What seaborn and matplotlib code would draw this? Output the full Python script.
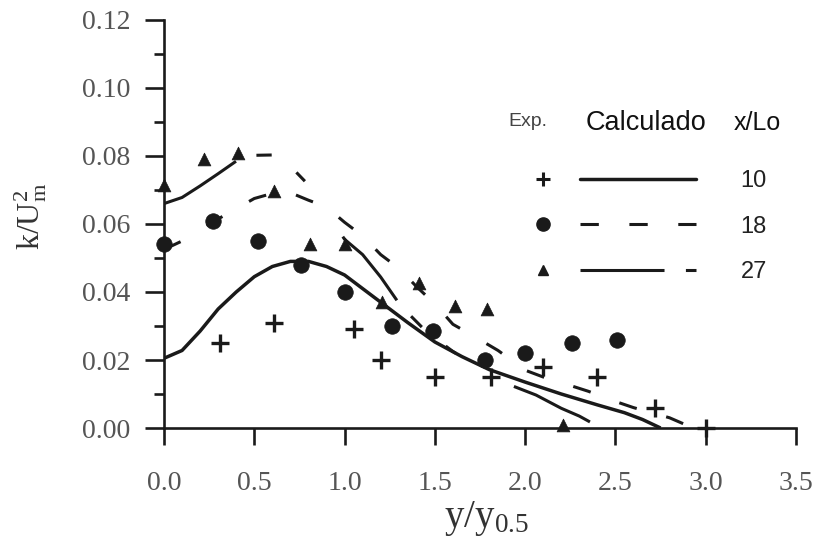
import matplotlib
matplotlib.use("Agg")
import matplotlib.pyplot as plt
import pandas as pd
import seaborn as sns
from matplotlib.lines import Line2D
from matplotlib.ticker import MultipleLocator, FormatStrFormatter

# ---------------- data ----------------
cases = ["10", "18", "27"]

exp10_x = [0.31, 0.61, 1.05, 1.20, 1.50, 1.81, 2.10, 2.40, 2.72, 3.00]
exp10_y = [0.025, 0.031, 0.029, 0.020, 0.015, 0.015, 0.018, 0.015, 0.006, 0.000]

exp18_x = [0.00, 0.27, 0.52, 0.76, 1.00, 1.26, 1.49, 1.78, 2.00, 2.26, 2.51]
exp18_y = [0.054, 0.061, 0.055, 0.048, 0.040, 0.030, 0.0285, 0.020, 0.022, 0.025, 0.026]

exp27_x = [0.00, 0.22, 0.41, 0.61, 0.81, 1.00, 1.21, 1.41, 1.61, 1.79, 2.21]
exp27_y = [0.0715, 0.079, 0.081, 0.0697, 0.054, 0.054, 0.037, 0.0427, 0.036, 0.035, 0.001]

calc10_x = [0.0, 0.1, 0.2, 0.3, 0.4, 0.5, 0.6, 0.7, 0.8, 0.9, 1.0, 1.1, 1.2, 1.35,
            1.5, 1.65, 1.8, 2.0, 2.2, 2.4, 2.55, 2.65, 2.75]
calc10_y = [0.0205, 0.0228, 0.0285, 0.035, 0.040, 0.0445, 0.0475, 0.049, 0.049, 0.0475,
            0.045, 0.041, 0.037, 0.031, 0.0253, 0.021, 0.0172, 0.0135, 0.010, 0.0068,
            0.0045, 0.0025, 0.0]

calc18_x = [0.0, 0.1, 0.2, 0.3, 0.4, 0.5, 0.6, 0.7, 0.8, 0.9, 1.0, 1.1, 1.2, 1.3, 1.4,
            1.5, 1.6, 1.7, 1.85, 2.0, 2.1, 2.25, 2.35, 2.5, 2.6, 2.7, 2.8, 2.9, 2.95]
calc18_y = [0.0525, 0.055, 0.0585, 0.0615, 0.0645, 0.0675, 0.069, 0.0692, 0.067, 0.065,
            0.0605, 0.0565, 0.051, 0.047, 0.0415, 0.0365, 0.0305, 0.0275, 0.0228, 0.017,
            0.015, 0.0125, 0.0108, 0.0078, 0.006, 0.0045, 0.003, 0.0007, 0.0]

calc27_x = [0.0, 0.1, 0.2, 0.3, 0.4, 0.5, 0.6, 0.7, 0.8, 0.9, 1.0, 1.1, 1.2, 1.31,
            1.45, 1.6, 1.75, 1.9, 2.06, 2.2, 2.3, 2.42]
calc27_y = [0.066, 0.0678, 0.0712, 0.0748, 0.0785, 0.0802, 0.0803, 0.077, 0.0715, 0.0635,
            0.0555, 0.051, 0.0444, 0.036, 0.0285, 0.0225, 0.0175, 0.013, 0.0097, 0.0058,
            0.0035, 0.0]

xticks = [0.0, 0.5, 1.0, 1.5, 2.0, 2.5, 3.0, 3.5]
yticks = [0.00, 0.02, 0.04, 0.06, 0.08, 0.10, 0.12]

header_exp = "Exp."
header_calc = "Calculado"
header_case = "x/Lo"

# ---------------- style ----------------
INK = "#1a1a1a"
sns.set_theme(style="white")
plt.rcParams["font.family"] = ["Liberation Serif", "DejaVu Serif"]
plt.rcParams["mathtext.fontset"] = "custom"
plt.rcParams["mathtext.rm"] = "Liberation Serif"
plt.rcParams["mathtext.it"] = "Liberation Serif:italic"

calc = pd.concat([
    pd.DataFrame({"x": calc10_x, "y": calc10_y, "case": "10"}),
    pd.DataFrame({"x": calc18_x, "y": calc18_y, "case": "18"}),
    pd.DataFrame({"x": calc27_x, "y": calc27_y, "case": "27"}),
], ignore_index=True)

dash_map = {"10": "", "18": (6, 10), "27": (27.5, 7, 5, 10, 4, 22)}
lw_map = {"10": 2.5, "18": 2.2, "27": 2.2}

fig = plt.figure(figsize=(8.17, 5.44), dpi=100)
W, H = 817, 544
ax = fig.add_axes([164 / W, 1 - 428 / H, (796 - 164) / W, (428 - 20) / H])

for c in cases:
    sub = calc[calc["case"] == c]
    sns.lineplot(data=sub, x="x", y="y", sort=False, estimator=None, color=INK,
                 linewidth=lw_map[c], ax=ax, legend=False, zorder=2)
    ln = ax.lines[-1]
    if dash_map[c]:
        ln.set_dashes(dash_map[c])
    ln.set_solid_capstyle("butt")
    ln.set_dash_capstyle("butt")

sns.scatterplot(x=exp10_x, y=exp10_y, marker="+", s=150, color=INK, linewidth=2.4,
                ax=ax, legend=False, zorder=3, clip_on=False)
sns.scatterplot(x=exp18_x, y=exp18_y, marker="o", s=125, color=INK, edgecolor=INK,
                linewidth=0.5, ax=ax, legend=False, zorder=3, clip_on=False)
sns.scatterplot(x=exp27_x, y=exp27_y, marker="^", s=85, color=INK, edgecolor=INK,
                linewidth=0.5, ax=ax, legend=False, zorder=3, clip_on=False)

ax.set_xlim(0, 3.5)
ax.set_ylim(0, 0.12)
ax.set_xticks(xticks)
ax.set_yticks(yticks)
ax.yaxis.set_minor_locator(MultipleLocator(0.01))
ax.xaxis.set_major_formatter(FormatStrFormatter("%.1f"))
ax.yaxis.set_major_formatter(FormatStrFormatter("%.2f"))

for side in ["top", "right"]:
    ax.spines[side].set_visible(False)
for side in ["left", "bottom"]:
    ax.spines[side].set_color(INK)
    ax.spines[side].set_linewidth(1.9)

ax.tick_params(axis="y", which="major", direction="out", length=14, width=1.9,
               color=INK, labelsize=20, labelcolor="#555555", pad=10, left=True)
ax.tick_params(axis="y", which="minor", direction="out", length=7, width=1.9,
               color=INK, left=True)
ax.tick_params(axis="x", which="major", direction="out", length=12, width=1.9,
               color=INK, labelsize=20, labelcolor="#555555", pad=19, bottom=True)
ax.grid(False)

ax.set_xlabel(r"y/y$_{\mathrm{0.5}}$", fontsize=28, color="#333333")
ax.set_ylabel(r"k/U$_{\mathrm{m}}^{\mathrm{2}}$", fontsize=23, color="#333333")
ax.xaxis.set_label_coords(0.51, -0.175)
ax.yaxis.set_label_coords(-0.182, 0.52)

# ---------------- legend ----------------
sans = ["Liberation Sans", "DejaVu Sans"]
marker_handles = [
    Line2D([], [], ls="none", marker="+", ms=10, mew=2.2, color=INK),
    Line2D([], [], ls="none", marker="o", ms=9.5, color=INK),
    Line2D([], [], ls="none", marker="^", ms=7.5, color=INK),
]
line_handles = []
for c in cases:
    h = Line2D([], [], color=INK, lw=lw_map[c])
    if dash_map[c]:
        h.set_dashes(dash_map[c])
    h.set_dash_capstyle("butt")
    line_handles.append(h)

leg_fs = 17
leg1 = ax.legend(handles=marker_handles, labels=["", "", ""], loc="upper left",
                 bbox_to_anchor=(531 / W, 1 - 170 / H), bbox_transform=fig.transFigure,
                 frameon=False, borderpad=0, borderaxespad=0, handlelength=1.0,
                 handletextpad=0, labelspacing=1.0, prop={"family": sans, "size": leg_fs})
ax.add_artist(leg1)
leg2 = ax.legend(handles=line_handles, labels=cases, loc="upper left",
                 bbox_to_anchor=(580 / W, 1 - 170 / H), bbox_transform=fig.transFigure,
                 frameon=False, borderpad=0, borderaxespad=0, handlelength=4.9,
                 handletextpad=1.9, labelspacing=1.0, prop={"family": sans, "size": leg_fs})
for t in leg2.get_texts():
    t.set_color("#222222")

fig.text(508 / W, 1 - 122 / H, header_exp, family=sans, fontsize=14, color="#444444",
         ha="left", va="center")
fig.text(586 / W, 1 - 123 / H, header_calc, family=sans, fontsize=19.5, color="#111111",
         ha="left", va="center")
fig.text(734 / W, 1 - 123 / H, header_case, family=sans, fontsize=18, color="#111111",
         ha="left", va="center")

fig.savefig("out.png", dpi=100, facecolor="white")
